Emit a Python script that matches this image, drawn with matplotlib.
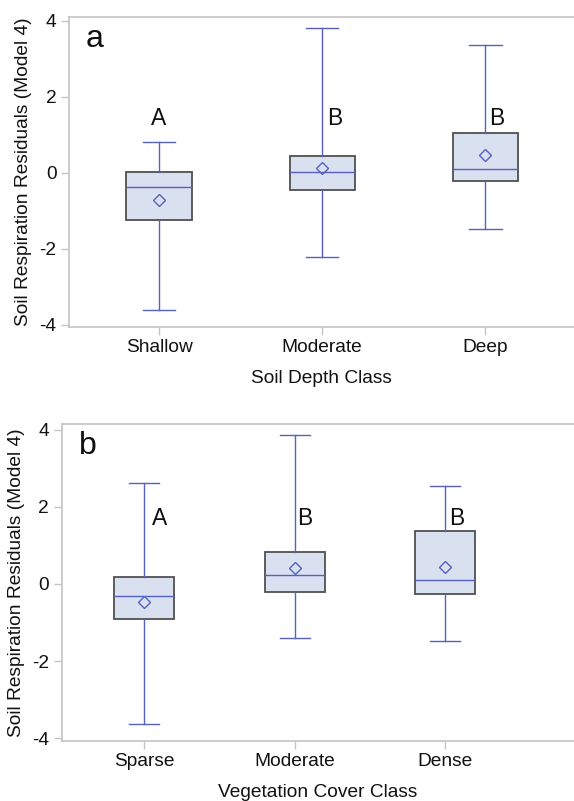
import matplotlib
matplotlib.use("Agg")
import matplotlib.pyplot as plt

plt.rcParams['font.family'] = ['Liberation Sans', 'DejaVu Sans']

# Panel a: soil depth class
cats_a = ["Shallow", "Moderate", "Deep"]
whislo_a = [-3.60, -2.21, -1.47]
q1_a = [-1.24, -0.45, -0.22]
med_a = [-0.37, 0.02, 0.10]
q3_a = [0.03, 0.45, 1.05]
whishi_a = [0.82, 3.82, 3.35]
mean_a = [-0.72, 0.12, 0.48]
letters_a = ["A", "B", "B"]

# Panel b: vegetation cover class
cats_b = ["Sparse", "Moderate", "Dense"]
whislo_b = [-3.63, -1.39, -1.48]
q1_b = [-0.90, -0.22, -0.27]
med_b = [-0.30, 0.22, 0.10]
q3_b = [0.18, 0.83, 1.37]
whishi_b = [2.61, 3.85, 2.54]
mean_b = [-0.46, 0.41, 0.43]
letters_b = ["A", "B", "B"]

yticks = [-4, -2, 0, 2, 4]
ylabel = "Soil Respiration Residuals (Model 4)"

BLUE = "#5560c0"
FILL = "#d9e0f0"
EDGE = "#505050"
SPINE = "#c4c4c4"
FS = 13.8

fig = plt.figure(figsize=(5.74, 8.01), dpi=100)

def panel(rect, cats, wl, q1, med, q3, wh, mean, letters, letter_x, letter_y,
          tag, xlabel, xlim, ylim):
    ax = fig.add_axes(rect)
    stats = []
    for i in range(len(cats)):
        stats.append(dict(whislo=wl[i], q1=q1[i], med=med[i], q3=q3[i],
                          whishi=wh[i], mean=mean[i], fliers=[], label=cats[i]))
    ax.bxp(stats, positions=range(len(cats)), widths=0.40, patch_artist=True,
           showmeans=True, showfliers=False,
           boxprops=dict(facecolor=FILL, edgecolor=EDGE, linewidth=1.3),
           whiskerprops=dict(color=BLUE, linewidth=1.0),
           capprops=dict(color=BLUE, linewidth=1.0),
           medianprops=dict(color=BLUE, linewidth=1.0),
           meanprops=dict(marker='D', markerfacecolor='none',
                          markeredgecolor=BLUE, markersize=6, markeredgewidth=1.0),
           capwidths=0.2)
    for i, t in enumerate(letters):
        ax.text(i + letter_x[i], letter_y, t, ha='center', va='center',
                fontsize=16.5, color='#111111')
    ax.text(0.033, 0.93, tag, transform=ax.transAxes, fontsize=23,
            ha='left', va='center', color='#111111')
    ax.set_xlim(*xlim)
    ax.set_ylim(*ylim)
    ax.set_yticks(yticks)
    ax.set_yticklabels([str(v) for v in yticks])
    ax.set_xticks(range(len(cats)))
    ax.set_xticklabels(cats)
    ax.tick_params(axis='both', colors=SPINE, labelcolor='#111111',
                   labelsize=FS, length=6, width=1.0, pad=3)
    for s in ['left', 'bottom', 'top']:
        ax.spines[s].set_color(SPINE)
        ax.spines[s].set_linewidth(1.2)
    ax.spines['right'].set_visible(False)
    ax.set_ylabel(ylabel, fontsize=FS, color='#111111', labelpad=5)
    ax.set_xlabel(xlabel, fontsize=FS, color='#111111', labelpad=10)
    return ax

W, H = 574.0, 801.0
ax1 = panel([69 / W, 1 - 327 / H, 1 - 69 / W, (327 - 17) / H],
            cats_a, whislo_a, q1_a, med_a, q3_a, whishi_a, mean_a,
            letters_a, [0.0, 0.08, 0.07], 1.43, "a", "Soil Depth Class",
            (-0.552, 2.544), (-4.06, 4.10))
ax2 = panel([61.7 / W, 1 - 741 / H, 1 - 61.7 / W, (741 - 423.5) / H],
            cats_b, whislo_b, q1_b, med_b, q3_b, whishi_b, mean_b,
            letters_b, [0.10, 0.07, 0.08], 1.70, "b", "Vegetation Cover Class",
            (-0.55, 2.858), (-4.07, 4.16))

fig.savefig("out.png", dpi=100)
